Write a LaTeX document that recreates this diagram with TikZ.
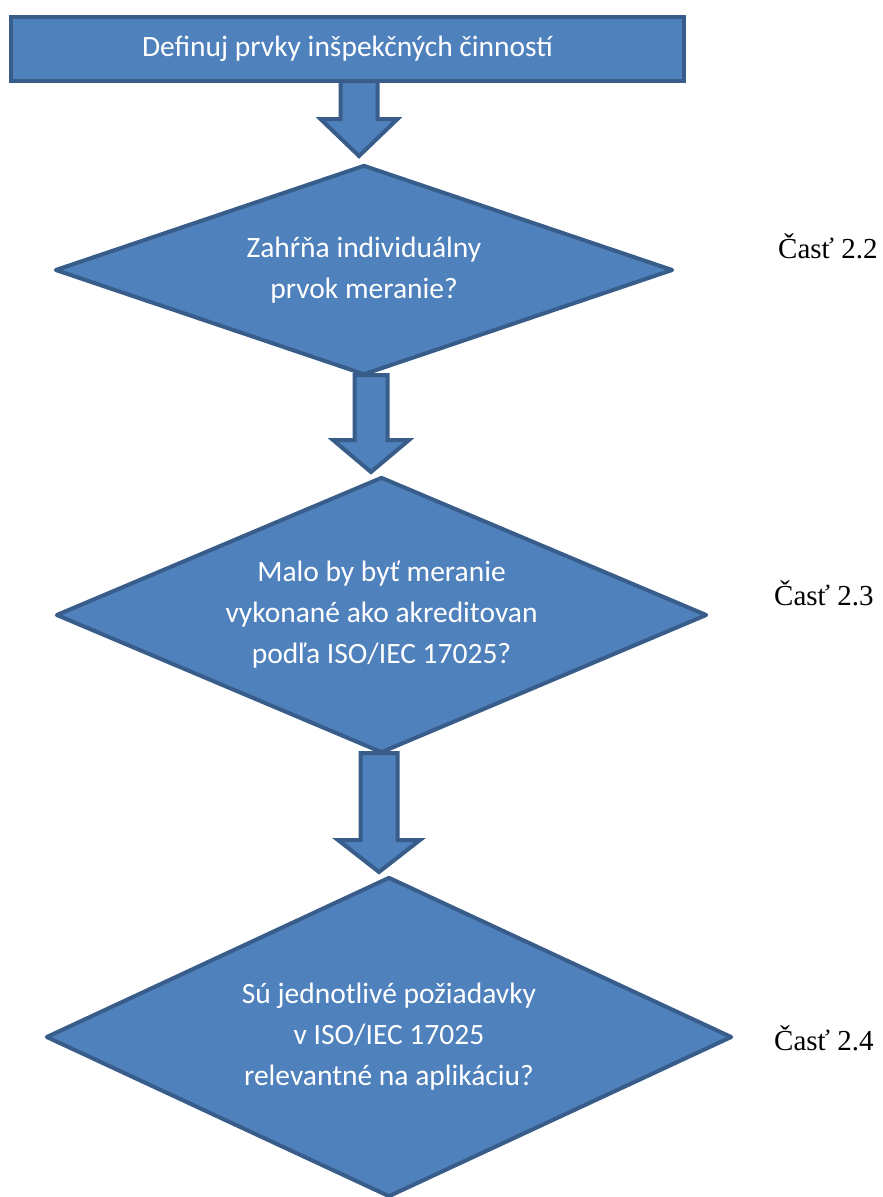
\documentclass[tikz,border=0pt]{standalone}
\usepackage{fontspec}
\setmainfont{Liberation Serif}
\newfontfamily\calib{Carlito}
\usetikzlibrary{shapes.geometric,calc}
\definecolor{boxfill}{HTML}{4F81BD}
\definecolor{boxline}{HTML}{385D8A}
\tikzset{
  flowbox/.style={draw=boxline, fill=boxfill, line width=4pt, text=white,
    font=\calib\fontsize{29.5}{41}\selectfont, align=center, inner sep=0pt},
  decision/.style={flowbox, diamond, line join=round},
  blockarrow/.style={draw=boxline, fill=boxfill, line width=4pt},
  sectlabel/.style={anchor=west, font=\fontsize{29}{34}\selectfont, inner sep=0pt}
}
% #1 from anchor, #2 to anchor, #3 x shift of arrow axis from #2, #4 shaft half width,
% #5 head half width, #6 head length, #7 gap above target
\newcommand\blockarr[7]{%
  \path[blockarrow] let \p1=(#1), \p2=(#2) in
    (\x2+#3-#4,\y1+2pt) -- (\x2+#3+#4,\y1+2pt) -- (\x2+#3+#4,\y2+#7+#6)
    -- (\x2+#3+#5,\y2+#7+#6) -- (\x2+#3,\y2+#7) -- (\x2+#3-#5,\y2+#7+#6)
    -- (\x2+#3-#4,\y2+#7+#6) -- cycle;}
\begin{document}
\begin{tikzpicture}[x=1pt,y=-1pt]
\useasboundingbox (0,0) rectangle (883,1197);
\node[flowbox, minimum width=673pt, minimum height=64pt] (r) at (347.5,49)
  {Definuj prvky inšpekčných činností};
\node[decision, aspect=2.943, minimum width=618pt, minimum height=210pt] (d1) at (364,270)
  {Zahŕňa individuálny\\prvok meranie?};
\node[decision, aspect=2.359, minimum width=651pt, minimum height=276pt] (d2) at (381.5,615)
  {Malo by byť meranie\\vykonané ako akreditovan\\podľa ISO/IEC 17025?};
\node[decision, aspect=2.144, minimum width=686pt, minimum height=320pt] (d3) at (389,1037)
  {Sú jednotlivé požiadavky\\v ISO/IEC 17025\\relevantné na aplikáciu?};
\blockarr{r.south}{d1.north}{-5pt}{18.5pt}{38.5pt}{37pt}{7pt}
\blockarr{d1.south}{d2.north}{-10.5pt}{16.5pt}{38pt}{32pt}{3pt}
\blockarr{d2.south}{d3.north}{-10pt}{18.5pt}{41pt}{32pt}{3pt}
\node[sectlabel] (l1) at (778,246) {Časť 2.2};
\node[sectlabel] (l2) at (774,593) {Časť 2.3};
\node[sectlabel] (l3) at (774,1038) {Časť 2.4};
\end{tikzpicture}
\end{document}
